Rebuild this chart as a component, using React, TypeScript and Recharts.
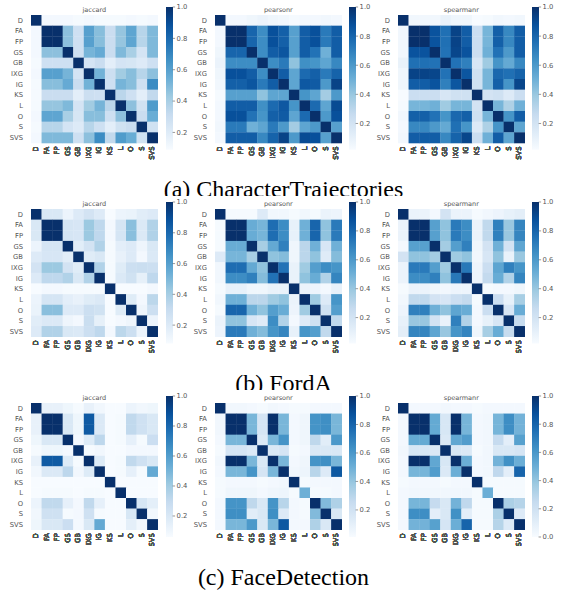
import { Bar, BarChart, Scatter, ScatterChart, XAxis, YAxis } from "recharts";

const methods = ["D", "FA", "FP", "GS", "GB", "IXG", "IG", "KS", "L", "O", "S", "SVS"];
const metrics = ["jaccard", "pearsonr", "spearmanr"];
const captions = ["(a) CharacterTrajectories", "(b) FordA", "(c) FaceDetection"];

// upper triangles, each row starts on the diagonal
const charJaccard = [
  [1, 0.11, 0.11, 0.11, 0.1, 0.11, 0.1, 0.1, 0.1, 0.11, 0.1, 0.11],
  [1, 1, 0.47, 0.28, 0.6, 0.48, 0.3, 0.45, 0.58, 0.36, 0.5],
  [1, 0.47, 0.28, 0.6, 0.48, 0.3, 0.45, 0.58, 0.36, 0.5],
  [1, 0.28, 0.52, 0.56, 0.3, 0.5, 0.4, 0.25, 0.5],
  [1, 0.25, 0.3, 0.18, 0.25, 0.24, 0.21, 0.28],
  [1, 0.53, 0.29, 0.42, 0.48, 0.36, 0.47],
  [1, 0.28, 0.52, 0.48, 0.28, 0.68],
  [1, 0.35, 0.28, 0.18, 0.33],
  [1, 0.47, 0.27, 0.62],
  [1, 0.3, 0.55],
  [1, 0.27],
  [1],
];
const charPearson = [
  [1, 0.04, 0.04, 0.06, 0.08, 0.06, 0.05, 0.03, 0.04, 0.04, 0.05, 0.04],
  [1, 1, 0.8, 0.65, 0.88, 0.82, 0.57, 0.83, 0.88, 0.72, 0.83],
  [1, 0.8, 0.65, 0.88, 0.82, 0.57, 0.83, 0.88, 0.72, 0.83],
  [1, 0.65, 0.83, 0.86, 0.57, 0.83, 0.75, 0.5, 0.83],
  [1, 0.65, 0.72, 0.42, 0.64, 0.62, 0.55, 0.67],
  [1, 0.83, 0.55, 0.78, 0.82, 0.72, 0.81],
  [1, 0.55, 0.85, 0.84, 0.6, 0.93],
  [1, 0.62, 0.55, 0.37, 0.6],
  [1, 0.78, 0.55, 0.9],
  [1, 0.6, 0.88],
  [1, 0.57],
  [1],
];
const charSpearman = [
  [1, 0.05, 0.05, 0.05, 0.09, 0.06, 0.06, 0.02, 0.03, 0.05, 0.04, 0.05],
  [1, 1, 0.87, 0.76, 0.93, 0.83, 0.24, 0.48, 0.82, 0.67, 0.83],
  [1, 0.87, 0.76, 0.93, 0.83, 0.24, 0.48, 0.82, 0.67, 0.83],
  [1, 0.75, 0.92, 0.87, 0.24, 0.5, 0.75, 0.6, 0.83],
  [1, 0.75, 0.7, 0.18, 0.38, 0.62, 0.53, 0.67],
  [1, 0.86, 0.22, 0.48, 0.79, 0.76, 0.81],
  [1, 0.22, 0.48, 0.82, 0.62, 0.92],
  [1, 0.2, 0.22, 0.15, 0.24],
  [1, 0.48, 0.34, 0.5],
  [1, 0.62, 0.83],
  [1, 0.55],
  [1],
];
const fordJaccard = [
  [1, 0.22, 0.22, 0.13, 0.2, 0.25, 0.2, 0.08, 0.13, 0.14, 0.18, 0.2],
  [1, 1, 0.24, 0.23, 0.43, 0.33, 0.1, 0.24, 0.47, 0.21, 0.37],
  [1, 0.24, 0.23, 0.43, 0.33, 0.1, 0.24, 0.47, 0.21, 0.37],
  [1, 0.18, 0.25, 0.37, 0.09, 0.17, 0.2, 0.12, 0.22],
  [1, 0.19, 0.22, 0.09, 0.15, 0.2, 0.1, 0.21],
  [1, 0.37, 0.09, 0.19, 0.28, 0.29, 0.28],
  [1, 0.09, 0.21, 0.26, 0.16, 0.33],
  [1, 0.08, 0.08, 0.08, 0.1],
  [1, 0.19, 0.1, 0.34],
  [1, 0.12, 0.28],
  [1, 0.13],
  [1],
];
const fordPearson = [
  [1, 0.03, 0.03, 0.03, 0.15, 0.05, 0.05, 0.03, 0.05, 0.03, 0.08, 0.07],
  [1, 1, 0.52, 0.48, 0.77, 0.65, 0.1, 0.5, 0.8, 0.42, 0.72],
  [1, 0.52, 0.48, 0.77, 0.65, 0.1, 0.5, 0.8, 0.42, 0.72],
  [1, 0.36, 0.53, 0.7, 0.06, 0.3, 0.5, 0.18, 0.5],
  [1, 0.42, 0.45, 0.06, 0.3, 0.42, 0.14, 0.45],
  [1, 0.75, 0.09, 0.38, 0.58, 0.65, 0.62],
  [1, 0.09, 0.42, 0.52, 0.33, 0.68],
  [1, 0.08, 0.07, 0.04, 0.1],
  [1, 0.38, 0.15, 0.62],
  [1, 0.22, 0.58],
  [1, 0.28],
  [1],
];
const fordSpearman = [
  [1, 0.08, 0.08, 0.04, 0.2, 0.08, 0.08, 0.03, 0.05, 0.07, 0.1, 0.12],
  [1, 1, 0.57, 0.42, 0.72, 0.65, 0.08, 0.28, 0.7, 0.4, 0.68],
  [1, 0.57, 0.42, 0.72, 0.65, 0.08, 0.28, 0.7, 0.4, 0.68],
  [1, 0.37, 0.58, 0.7, 0.06, 0.2, 0.5, 0.2, 0.55],
  [1, 0.38, 0.42, 0.05, 0.18, 0.42, 0.09, 0.4],
  [1, 0.73, 0.07, 0.24, 0.55, 0.7, 0.62],
  [1, 0.07, 0.27, 0.52, 0.33, 0.68],
  [1, 0.03, 0.04, 0.04, 0.06],
  [1, 0.24, 0.1, 0.36],
  [1, 0.18, 0.52],
  [1, 0.26],
  [1],
];
const faceJaccard = [
  [1, 0.13, 0.13, 0.1, 0.07, 0.13, 0.09, 0.06, 0.06, 0.11, 0.09, 0.1],
  [1, 1, 0.2, 0.1, 0.85, 0.19, 0.06, 0.07, 0.31, 0.25, 0.2],
  [1, 0.2, 0.1, 0.85, 0.19, 0.06, 0.07, 0.31, 0.25, 0.2],
  [1, 0.08, 0.18, 0.32, 0.06, 0.07, 0.14, 0.07, 0.27],
  [1, 0.07, 0.09, 0.06, 0.06, 0.08, 0.08, 0.08],
  [1, 0.18, 0.06, 0.07, 0.31, 0.25, 0.2],
  [1, 0.06, 0.07, 0.14, 0.07, 0.55],
  [1, 0.06, 0.06, 0.06, 0.06],
  [1, 0.06, 0.06, 0.06],
  [1, 0.21, 0.15],
  [1, 0.09],
  [1],
];
const facePearson = [
  [1, 0.04, 0.04, 0.03, 0.02, 0.04, 0.03, 0.02, 0.02, 0.03, 0.03, 0.03],
  [1, 1, 0.47, 0.18, 1, 0.47, 0.03, 0.05, 0.62, 0.64, 0.47],
  [1, 0.47, 0.18, 1, 0.47, 0.03, 0.05, 0.62, 0.64, 0.47],
  [1, 0.15, 0.47, 0.62, 0.03, 0.05, 0.28, 0.12, 0.6],
  [1, 0.16, 0.18, 0.02, 0.03, 0.16, 0.16, 0.16],
  [1, 0.47, 0.03, 0.05, 0.62, 0.64, 0.47],
  [1, 0.04, 0.06, 0.3, 0.14, 0.85],
  [1, 0.02, 0.03, 0.03, 0.03],
  [0.5, 0.02, 0.02, 0.03],
  [1, 0.45, 0.33],
  [1, 0.16],
  [1],
];
const faceSpearman = [
  [1, 0.02, 0.02, 0.02, 0.03, 0.02, 0.02, 0.01, 0.02, 0.02, 0.02, 0.02],
  [1, 1, 0.52, 0.16, 1, 0.47, 0.02, 0.03, 0.47, 0.64, 0.48],
  [1, 0.52, 0.16, 1, 0.47, 0.02, 0.03, 0.47, 0.64, 0.48],
  [1, 0.14, 0.53, 0.58, 0.02, 0.03, 0.25, 0.1, 0.56],
  [1, 0.16, 0.14, 0.01, 0.03, 0.15, 0.15, 0.17],
  [1, 0.5, 0.02, 0.03, 0.48, 0.63, 0.5],
  [1, 0.02, 0.03, 0.27, 0.1, 0.8],
  [1, 0.01, 0.01, 0.01, 0.01],
  [0.5, 0.01, 0.01, 0.01],
  [1, 0.33, 0.3],
  [1, 0.13],
  [1],
];

const matrices = [
  [charJaccard, charPearson, charSpearman],
  [fordJaccard, fordPearson, fordSpearman],
  [faceJaccard, facePearson, faceSpearman],
];
// lower end of each colour bar
const mins = [
  [0.09, 0.02, 0.02],
  [0.08, 0.02, 0.02],
  [0.06, 0.01, 0],
];
const barTicks = [0.2, 0.4, 0.6, 0.8, 1];
const barTicksZero = [0, 0.2, 0.4, 0.6, 0.8, 1];

const blues = ["#f7fbff", "#deebf7", "#c6dbef", "#9ecae1", "#6baed6", "#4292c6", "#2171b5", "#08519c", "#08306b"];

const plotLeft = [31, 215, 397.7];
const plotWidth = 126.7;
const plotTop = [15.3, 209.3, 403.3];
const plotHeight = [128, 127.7, 126.7];
const barLeft = [165.7, 349, 532.3];
const barWidth = 6.6;
const barTop = [7.3, 201.7, 395.7];
const barHeight = [142.7, 141.6, 141];
const TICK = "#555";

function blueAt(t: number) {
  const p = Math.min(Math.max(t, 0), 1) * (blues.length - 1);
  const i = Math.min(Math.floor(p), blues.length - 2);
  const f = p - i;
  const ch = (hex: string, s: number) => parseInt(hex.slice(s, s + 2), 16);
  const mix = (s: number) => Math.round(ch(blues[i], s) * (1 - f) + ch(blues[i + 1], s) * f);
  return `rgb(${mix(1)},${mix(3)},${mix(5)})`;
}

function cellsOf(tri: number[][]) {
  const out: { x: string; y: string; v: number }[] = [];
  methods.forEach((y, r) => {
    methods.forEach((x, c) => {
      const v = r <= c ? tri[r][c - r] : tri[c][r - c];
      out.push({ x, y, v });
    });
  });
  return out;
}

function Heatmap({ row, col }: { row: number; col: number }) {
  const h = plotHeight[row];
  const min = mins[row][col];
  const cw = plotWidth / methods.length;
  const ch = h / methods.length;
  const Cell = (p: any) => (
    <rect
      x={p.cx - cw / 2}
      y={p.cy - ch / 2}
      width={cw + 0.3}
      height={ch + 0.3}
      fill={blueAt((p.payload.v - min) / (1 - min))}
    />
  );
  return (
    <div style={{ position: "absolute", left: plotLeft[col] - 31, top: plotTop[row] - 15 }}>
      <ScatterChart width={31 + plotWidth + 4} height={15 + h + 26} margin={{ top: 15, right: 4, bottom: 0, left: 0 }}>
        <XAxis
          type="category"
          dataKey="x"
          scale="band"
          allowDuplicatedCategory={false}
          interval={0}
          height={26}
          axisLine={false}
          tickLine={false}
          angle={-90}
          textAnchor="end"
          tickSize={3.5}
          tickMargin={0}
          tick={{ fontSize: 6.8, fill: TICK, fontFamily: "DejaVu Sans", dx: -3 }}
        />
        <YAxis
          type="category"
          dataKey="y"
          scale="band"
          reversed
          allowDuplicatedCategory={false}
          interval={0}
          width={31}
          axisLine={false}
          tickLine={false}
          tickMargin={2}
          tick={{ fontSize: 6.8, fill: TICK, fontFamily: "DejaVu Sans" }}
        />
        <Scatter data={cellsOf(matrices[row][col])} shape={Cell} isAnimationActive={false} />
        <text x={31 + plotWidth / 2} y={12} textAnchor="middle" fontSize={6.5} fontFamily="DejaVu Sans" fill={TICK}>
          {metrics[col]}
        </text>
      </ScatterChart>
    </div>
  );
}

function ColorBar({ row, col }: { row: number; col: number }) {
  const min = mins[row][col];
  const id = `blues-${row}-${col}`;
  return (
    <div style={{ position: "absolute", left: barLeft[col], top: barTop[row] - 4 }}>
      <BarChart
        width={barWidth + 24}
        height={barHeight[row] + 8}
        data={[{ name: "bar", range: [min, 1] }]}
        margin={{ top: 4, right: 0, bottom: 4, left: 0 }}
        barCategoryGap={0}
      >
        <defs>
          <linearGradient id={id} x1="0" y1="1" x2="0" y2="0">
            {blues.map((c, i) => (
              <stop key={c} offset={i / (blues.length - 1)} stopColor={c} />
            ))}
          </linearGradient>
        </defs>
        <XAxis dataKey="name" hide />
        <YAxis
          orientation="right"
          type="number"
          domain={[min, 1]}
          ticks={min === 0 ? barTicksZero : barTicks}
          interval={0}
          width={24}
          axisLine={false}
          tickSize={2.5}
          tickMargin={1.5}
          tickLine={{ stroke: TICK, strokeWidth: 0.6 }}
          tickFormatter={(v) => Number(v).toFixed(1)}
          tick={{ fontSize: 6.8, fill: TICK, fontFamily: "DejaVu Sans" }}
        />
        <Bar dataKey="range" fill={`url(#${id})`} isAnimationActive={false} />
      </BarChart>
    </div>
  );
}

// the captions sit under the next row's image in the source, so the first two are cut off
const captionTop = [177, 371, 565];
const captionClip = [196, 390, 590];

export default function App() {
  return (
    <div style={{ position: "absolute", left: 0, top: 0, width: 566, height: 590, background: "#fff", overflow: "hidden" }}>
      {captions.map((c, i) => (
        <div
          key={c}
          style={{
            position: "absolute",
            left: 0.5,
            top: captionTop[i],
            width: 566,
            height: captionClip[i] - captionTop[i],
            overflow: "hidden",
            textAlign: "center",
            fontFamily: "Liberation Serif",
            fontSize: 24,
            lineHeight: "24px",
            color: "#000",
          }}
        >
          {c}
        </div>
      ))}
      {matrices.map((rowM, row) =>
        rowM.map((_, col) => (
          <div key={`${row}-${col}`}>
            <Heatmap row={row} col={col} />
            <ColorBar row={row} col={col} />
          </div>
        )),
      )}
    </div>
  );
}
